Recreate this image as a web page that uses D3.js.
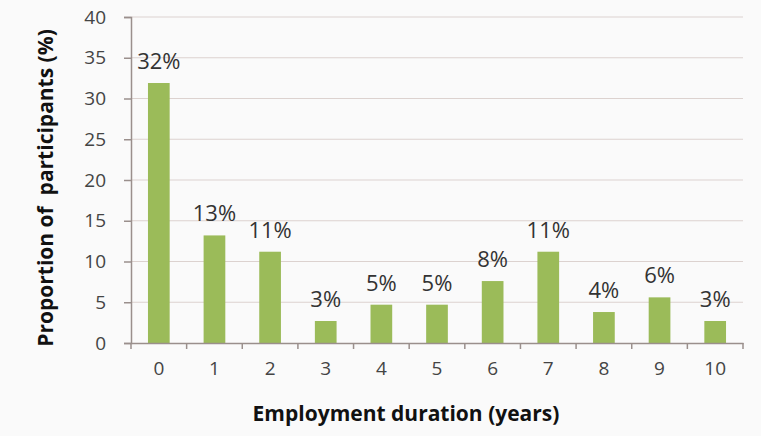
<!DOCTYPE html>
<html>
<head>
<meta charset="utf-8">
<script src="https://cdn.jsdelivr.net/npm/d3@7"></script>
<style>
  html, body { margin: 0; padding: 0; background: #fafafa; }
  svg { display: block; }
</style>
</head>
<body>
<svg id="chart" width="761" height="436"></svg>
<script>
// Employment duration in years, share of participants (%)
const years = ["0", "1", "2", "3", "4", "5", "6", "7", "8", "9", "10"];
const proportions = [31.9, 13.2, 11.2, 2.7, 4.7, 4.7, 7.6, 11.2, 3.8, 5.6, 2.7];
const yTicks = [0, 5, 10, 15, 20, 25, 30, 35, 40];
const xTitle = "Employment duration (years)";
const yTitle = "Proportion of\u00a0 participants (%)";

const svg = d3.select("#chart");
const margin = { left: 131, right: 18, top: 17, bottom: 93 };
const W = 761, H = 436;
const innerW = W - margin.left - margin.right;
const innerH = H - margin.top - margin.bottom;

const x = d3.scaleBand().domain(years).range([0, innerW]).paddingInner(0.61).paddingOuter(0.305);
const y = d3.scaleLinear().domain([0, 40]).range([innerH, 0]);

const g = svg.append("g").attr("transform", `translate(${margin.left},${margin.top})`);

// horizontal gridlines
g.append("g")
  .selectAll("line")
  .data(yTicks.filter(d => d > 0))
  .join("line")
  .attr("x1", 0).attr("x2", innerW)
  .attr("y1", d => y(d)).attr("y2", d => y(d))
  .attr("stroke", "#dcd2cf").attr("stroke-width", 1.2);

// bars
g.append("g")
  .selectAll("rect")
  .data(proportions)
  .join("rect")
  .attr("x", (d, i) => x(years[i]))
  .attr("y", d => y(d))
  .attr("width", x.bandwidth())
  .attr("height", d => innerH - y(d))
  .attr("fill", "#9bbb59");

// value labels
g.append("g")
  .selectAll("text")
  .data(proportions)
  .join("text")
  .attr("x", (d, i) => x(years[i]) + x.bandwidth() / 2)
  .attr("y", d => y(d) - 14)
  .attr("text-anchor", "middle")
  .attr("font-family", "'Open Sans', sans-serif")
  .attr("font-size", 22)
  .attr("fill", "#333")
  .text(d => Math.round(d) + "%");

// y axis
const yAxis = g.append("g")
  .call(d3.axisLeft(y).tickValues(yTicks).tickSize(7).tickPadding(18));
yAxis.select(".domain").attr("stroke", "#9a8f8c").attr("stroke-width", 1.5);
yAxis.selectAll(".tick line").attr("stroke", "#9a8f8c").attr("stroke-width", 1.5);
yAxis.selectAll(".tick text")
  .attr("font-family", "'Open Sans', sans-serif")
  .attr("font-size", 19)
  .attr("fill", "#444");

// x axis with ticks at category boundaries
const xAxis = g.append("g")
  .attr("transform", `translate(0,${innerH})`)
  .call(d3.axisBottom(x).tickSize(0).tickPadding(19));
xAxis.select(".domain").attr("stroke", "#9a8f8c").attr("stroke-width", 1.5);
xAxis.selectAll(".tick text")
  .attr("font-family", "'Open Sans', sans-serif")
  .attr("font-size", 19)
  .attr("fill", "#444");
const step = x.step();
xAxis.append("g")
  .selectAll("line")
  .data(d3.range(years.length + 1))
  .join("line")
  .attr("x1", i => i * step).attr("x2", i => i * step)
  .attr("y1", 0).attr("y2", 6)
  .attr("stroke", "#9a8f8c").attr("stroke-width", 1.5);

// axis titles
svg.append("text")
  .attr("x", 406)
  .attr("y", 421)
  .attr("text-anchor", "middle")
  .attr("font-family", "'Open Sans', sans-serif")
  .attr("font-weight", "bold")
  .attr("font-size", 21)
  .attr("fill", "#111")
  .text(xTitle);

svg.append("text")
  .attr("transform", "translate(53,188) rotate(-90)")
  .attr("text-anchor", "middle")
  .attr("font-family", "'Open Sans', sans-serif")
  .attr("font-weight", "bold")
  .attr("font-size", 21)
  .attr("fill", "#111")
  .text(yTitle);
</script>
</body>
</html>
